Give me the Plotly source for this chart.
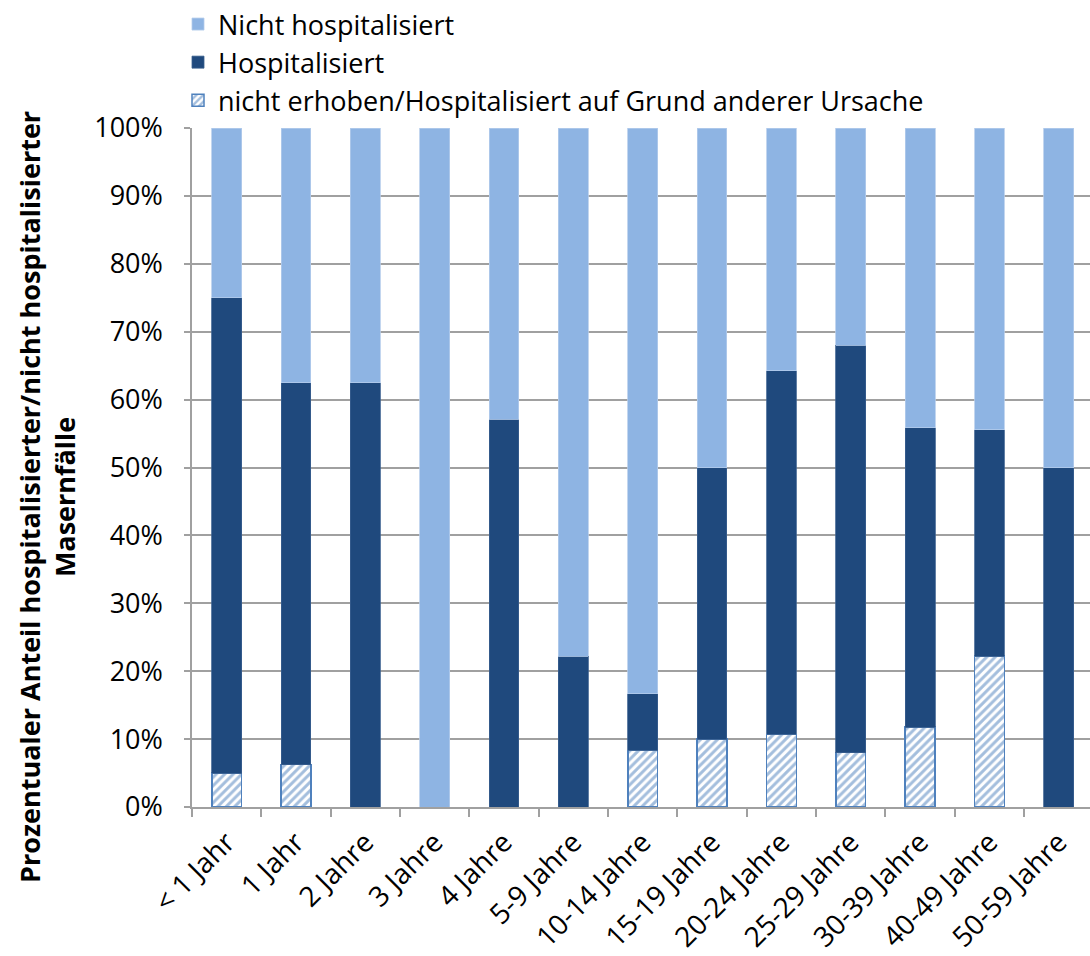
import plotly.graph_objects as go

# Altersgruppen der Masernfälle
altersgruppen = ["< 1 Jahr", "1 Jahr", "2 Jahre", "3 Jahre", "4 Jahre", "5-9 Jahre",
                 "10-14 Jahre", "15-19 Jahre", "20-24 Jahre", "25-29 Jahre",
                 "30-39 Jahre", "40-49 Jahre", "50-59 Jahre"]

# Anteile in Prozent (von unten nach oben gestapelt)
nicht_erhoben = [5.0, 6.25, 0, 0, 0, 0, 8.33, 10.0, 10.71, 8.0, 11.76, 22.22, 0]
hospitalisiert = [70.0, 56.25, 62.5, 0, 57.14, 22.22, 8.33, 40.0, 53.57, 60.0, 44.12, 33.33, 50.0]
nicht_hospitalisiert = [25.0, 37.5, 37.5, 100.0, 42.86, 77.78, 83.33, 50.0, 35.71, 32.0, 44.12, 44.44, 50.0]

y_ticks = list(range(0, 101, 10))

FONT = "Open Sans"
FS = 27
W, H = 1090, 956
L, T, B, R = 192, 128, 149, 0
plot_w = W - L - R
plot_h = H - T - B

fig = go.Figure()

fig.add_trace(go.Bar(
    x=altersgruppen, y=nicht_erhoben,
    name="nicht erhoben/Hospitalisiert auf Grund anderer Ursache",
    marker=dict(
        color="white",
        line=dict(color="#4F81BD", width=1.5),
        pattern=dict(shape="/", fgcolor="#4A7EBB", bgcolor="white",
                     size=6, solidity=0.5),
    ),
))
fig.add_trace(go.Bar(
    x=altersgruppen, y=hospitalisiert, name="Hospitalisiert",
    marker=dict(color="#1F497D", line=dict(color="#3A5F8E", width=0.8)),
))
fig.add_trace(go.Bar(
    x=altersgruppen, y=nicht_hospitalisiert, name="Nicht hospitalisiert",
    marker=dict(color="#8EB4E3", line=dict(color="#B4CCEB", width=0.8)),
))

fig.update_layout(
    width=W, height=H,
    margin=dict(l=L, r=R, t=T, b=B, pad=0, autoexpand=False),
    barmode="stack",
    bargap=0.57,
    plot_bgcolor="white",
    paper_bgcolor="white",
    font=dict(family=FONT, size=FS, color="black"),
    showlegend=True,
    legend=dict(
        traceorder="reversed",
        x=(178 - L) / plot_w, xanchor="left",
        y=1 + T / plot_h, yanchor="top",
        font=dict(family=FONT, size=FS, color="black"),
        bgcolor="rgba(0,0,0,0)",
        itemwidth=30,
    ),
    xaxis=dict(
        type="category",
        range=[-0.5, 12.45],
        automargin=False,
        showgrid=False,
        showline=True, linecolor="#A0A0A0", linewidth=1.5,
        ticks="outside", tickson="boundaries", ticklen=8,
        tickcolor="#A0A0A0", tickwidth=1.5,
        tickangle=-45,
        ticklabelstandoff=6,
        tickfont=dict(family=FONT, size=28, color="black"),
    ),
    yaxis=dict(
        range=[0, 100],
        automargin=False,
        tickvals=y_ticks,
        ticktext=[f"{v}%" for v in y_ticks],
        showgrid=True, gridcolor="#A0A0A0", gridwidth=1.5,
        showline=True, linecolor="#A0A0A0", linewidth=1.5,
        ticks="outside", ticklen=6, tickcolor="#A0A0A0", tickwidth=1.5,
        ticklabelstandoff=16,
        zeroline=False,
        tickfont=dict(family=FONT, size=FS, color="black"),
    ),
    annotations=[dict(
        text="<b>Prozentualer Anteil hospitalisierter/nicht hospitalisierter<br>Masernfälle</b>",
        xref="paper", yref="paper",
        x=(47 - L) / plot_w, y=(H - B - 497) / plot_h,
        xanchor="center", yanchor="middle",
        textangle=-90, showarrow=False,
        font=dict(family=FONT, size=27, color="black"),
    )],
)

fig.write_html("out.html")
